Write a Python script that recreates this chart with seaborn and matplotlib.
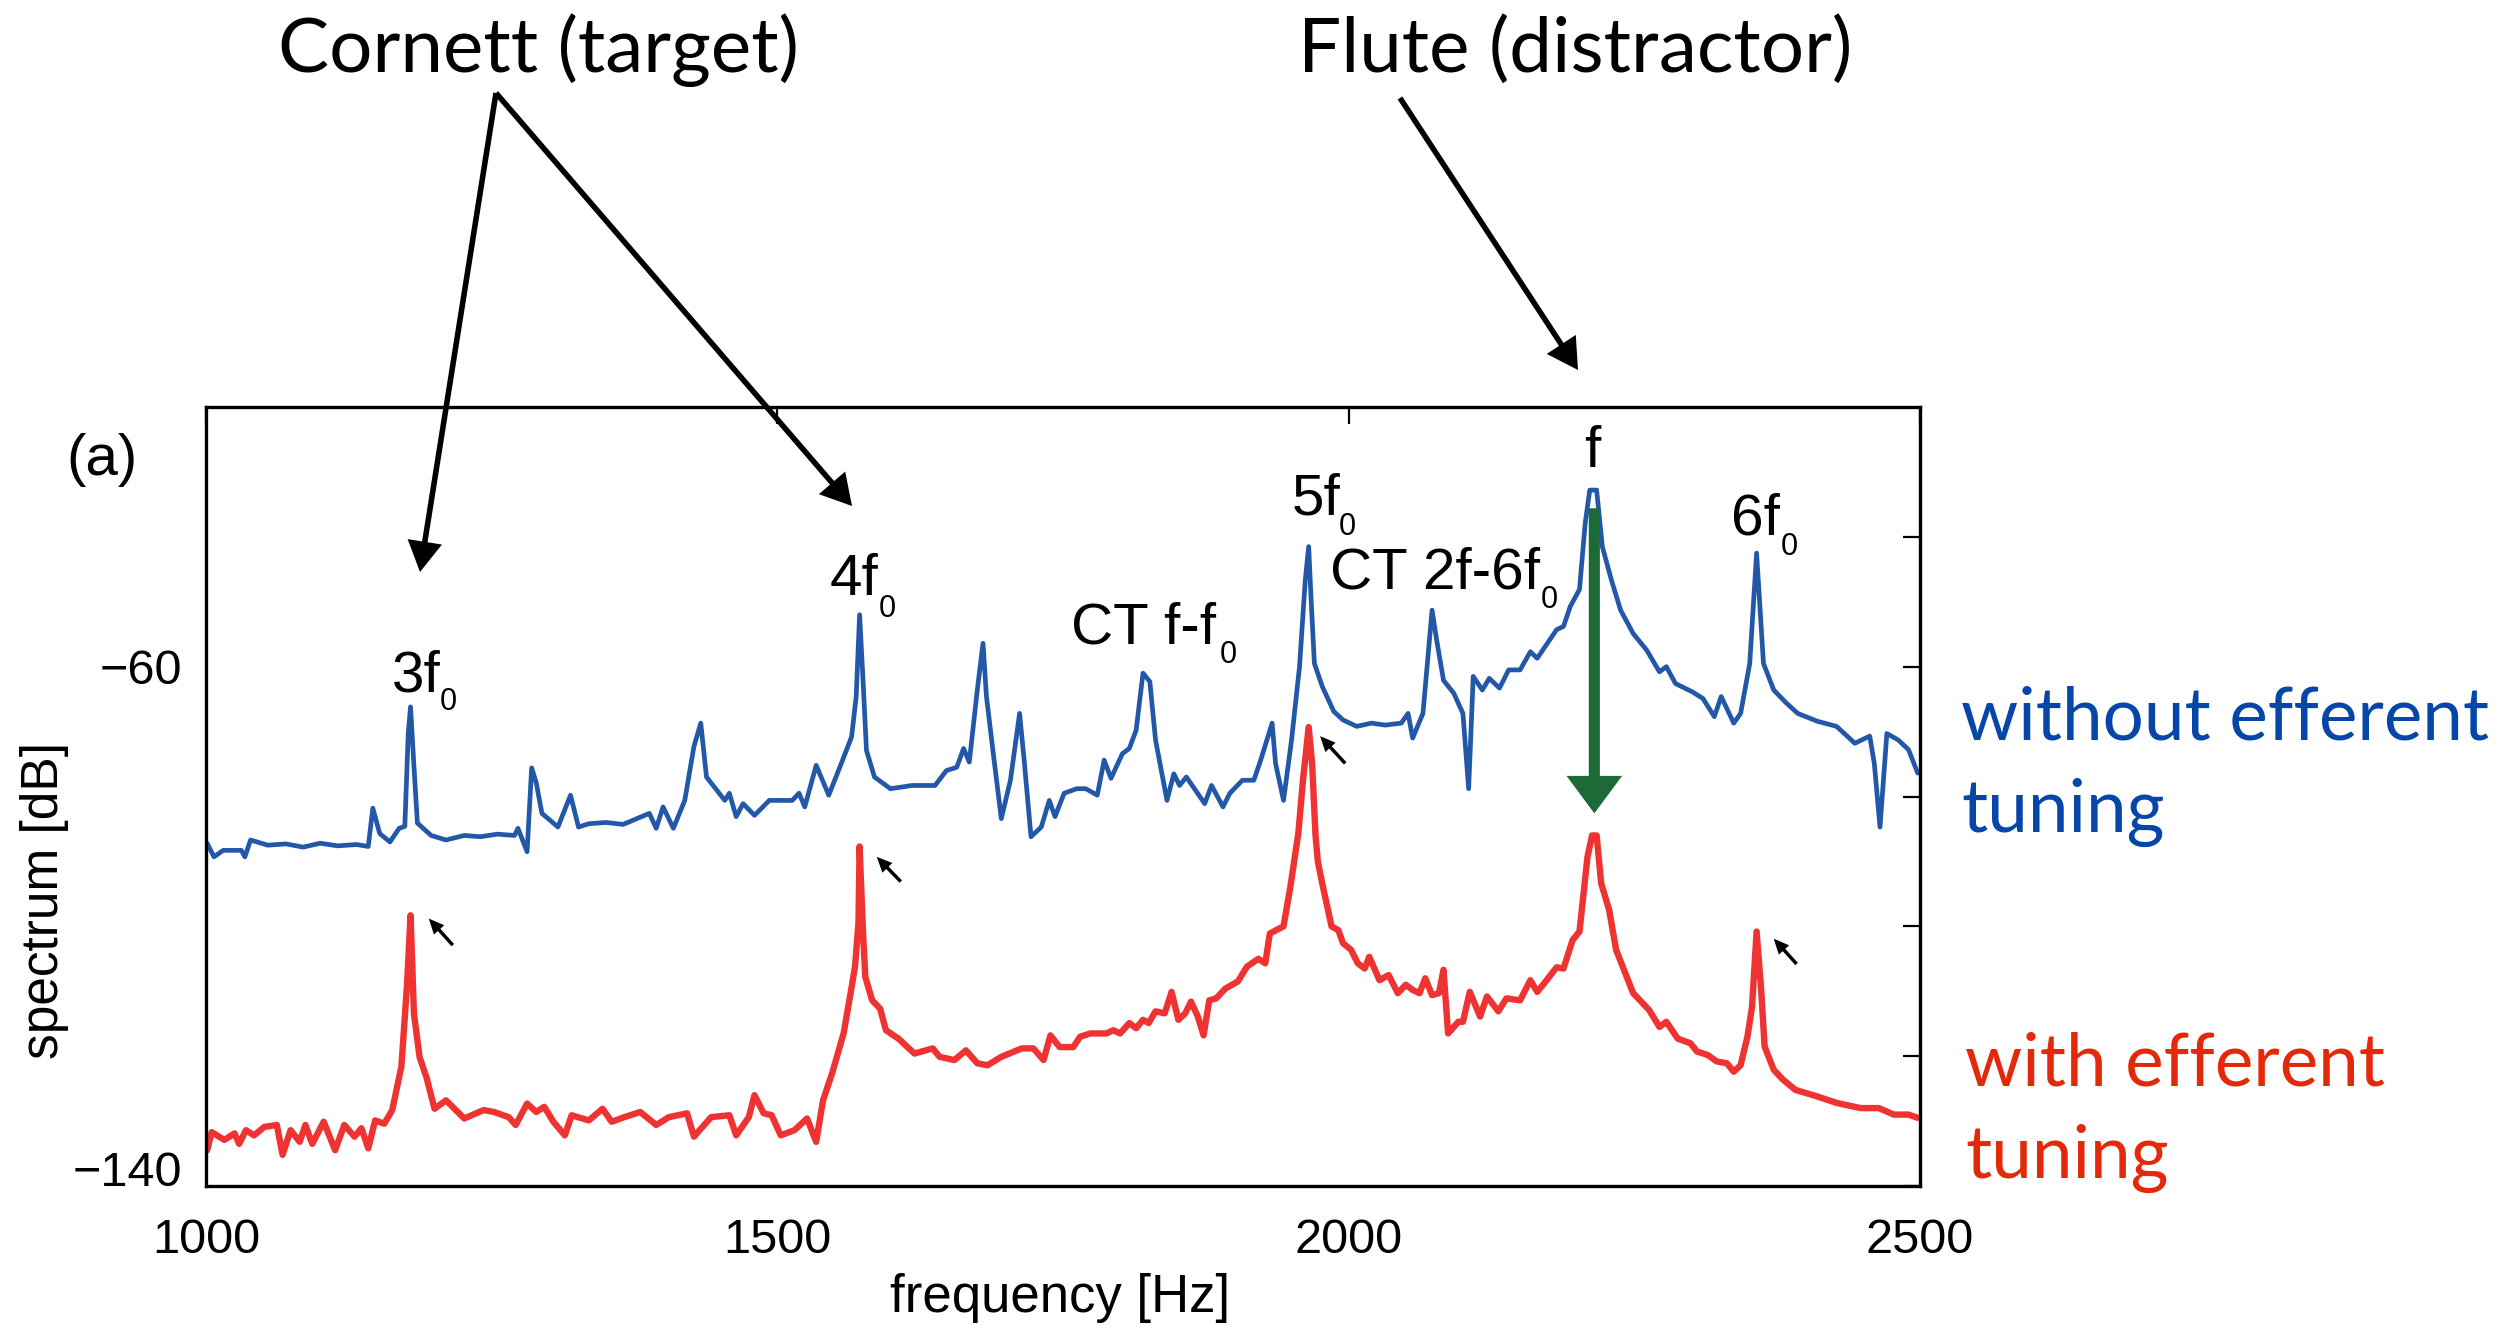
import matplotlib
matplotlib.use("Agg")
import matplotlib.pyplot as plt
import seaborn as sns

# ---------------- data ----------------
freq_without = [1001, 1007, 1015, 1031, 1034, 1039, 1054, 1070, 1085, 1100, 1115, 1132, 1142, 1146,
                1152, 1161, 1169, 1174, 1177, 1179, 1182, 1185, 1197, 1210, 1226, 1240, 1255, 1270,
                1273, 1281, 1285, 1289, 1294, 1308, 1319, 1326, 1335, 1350, 1365, 1388, 1394, 1400,
                1409, 1419, 1427, 1433, 1438, 1454, 1458, 1464, 1470, 1480, 1493, 1513, 1519, 1524,
                1534, 1545, 1556, 1565, 1569, 1572, 1575, 1578, 1585, 1599, 1618, 1638, 1648, 1657,
                1663, 1668, 1675, 1680, 1683, 1689, 1696, 1704, 1712, 1716, 1722, 1731, 1738, 1743,
                1751, 1762, 1770, 1780, 1786, 1792, 1802, 1808, 1814, 1820, 1826, 1831, 1841, 1847,
                1852, 1858, 1874, 1880, 1890, 1896, 1907, 1917, 1923, 1933, 1936, 1943, 1950, 1957,
                1962, 1965, 1967, 1970, 1977, 1987, 1995, 2007, 2020, 2032, 2046, 2052, 2056, 2065,
                2073, 2077, 2083, 2092, 2100, 2105, 2109, 2117, 2123, 2132, 2140, 2150, 2159, 2165,
                2182, 2188, 2194, 2202, 2207, 2211, 2217, 2222, 2230, 2238, 2249, 2261, 2272, 2278,
                2286, 2301, 2310, 2320, 2326, 2337, 2343, 2351, 2357, 2363, 2372, 2383, 2393, 2410,
                2427, 2443, 2456, 2460, 2465, 2471, 2481, 2490, 2498]
db_without = [-87.2, -89.3, -88.3, -88.3, -89.3, -86.7, -87.5, -87.3, -87.8, -87.2, -87.6, -87.4, -87.7, -81.8,
              -85.7, -87.0, -84.9, -84.6, -70.2, -66.2, -75.4, -84.1, -86.0, -86.7, -86.0, -86.2, -85.8, -86.0,
              -84.9, -88.5, -75.6, -77.9, -82.6, -84.7, -79.8, -84.7, -84.2, -84.0, -84.3, -82.6, -84.9, -81.6,
              -84.9, -80.6, -72.3, -68.7, -77.0, -80.6, -79.5, -83.1, -81.1, -82.9, -80.6, -80.6, -79.5, -81.6,
              -75.2, -79.8, -74.9, -70.8, -64.6, -52.0, -62.1, -72.9, -77.0, -78.8, -78.3, -78.3, -76.0, -75.5,
              -72.6, -74.7, -63.6, -56.4, -64.6, -73.4, -83.4, -77.5, -67.2, -74.4, -86.2, -84.7, -80.6, -83.1,
              -79.5, -78.8, -78.8, -79.8, -74.4, -77.2, -73.4, -72.6, -69.8, -61.0, -62.3, -71.3, -80.6, -76.5,
              -78.3, -77.0, -81.1, -78.3, -81.6, -79.5, -77.5, -77.5, -74.4, -68.7, -74.9, -80.6, -71.3, -60.0,
              -46.7, -41.5, -49.2, -59.5, -63.1, -66.9, -68.2, -69.2, -68.7, -69.0, -68.7, -67.2, -71.0, -67.2,
              -51.3, -55.9, -62.1, -64.1, -67.2, -78.8, -61.5, -63.6, -61.8, -63.3, -60.5, -60.5, -57.7, -58.7,
              -54.3, -53.8, -50.7, -48.1, -37.9, -32.8, -32.8, -41.5, -46.7, -51.3, -54.9, -57.5, -60.8, -60.0,
              -62.6, -63.9, -64.9, -67.7, -64.6, -68.7, -67.2, -59.5, -42.5, -59.5, -63.6, -65.6, -67.2, -68.4,
              -69.2, -71.8, -70.7, -74.9, -84.7, -70.3, -71.3, -72.8, -76.4]

freq_with = [1001, 1005, 1016, 1025, 1029, 1035, 1042, 1051, 1062, 1067, 1074, 1082, 1087, 1093, 1103,
             1113, 1121, 1130, 1136, 1142, 1148, 1156, 1163, 1171, 1176, 1179, 1182, 1187, 1193, 1200,
             1210, 1226, 1243, 1252, 1265, 1271, 1281, 1289, 1296, 1304, 1314, 1320, 1335, 1347, 1355,
             1366, 1380, 1394, 1405, 1421, 1427, 1442, 1458, 1464, 1475, 1480, 1488, 1495, 1503, 1515,
             1526, 1534, 1540, 1548, 1558, 1564, 1568, 1571, 1572, 1575, 1577, 1583, 1590, 1595, 1606,
             1620, 1636, 1642, 1655, 1665, 1675, 1684, 1696, 1714, 1724, 1733, 1739, 1747, 1759, 1765,
             1774, 1788, 1794, 1800, 1808, 1814, 1820, 1825, 1831, 1839, 1845, 1851, 1857, 1862, 1868,
             1873, 1878, 1884, 1892, 1903, 1911, 1921, 1927, 1931, 1943, 1949, 1956, 1960, 1965, 1968,
             1971, 1973, 1977, 1985, 1991, 1995, 2002, 2008, 2014, 2018, 2027, 2035, 2043, 2050, 2056,
             2062, 2067, 2073, 2079, 2083, 2087, 2096, 2100, 2106, 2115, 2121, 2131, 2138, 2150, 2159,
             2165, 2171, 2182, 2188, 2196, 2202, 2209, 2213, 2217, 2221, 2228, 2234, 2240, 2249, 2263,
             2272, 2278, 2288, 2299, 2305, 2314, 2322, 2331, 2337, 2343, 2349, 2353, 2357, 2361, 2364,
             2372, 2380, 2391, 2410, 2427, 2448, 2464, 2477, 2490, 2498]
db_with = [-134.5, -131.7, -132.9, -131.9, -133.5, -131.4, -132.2, -130.9, -130.6, -135.2, -131.4, -133.2, -130.6, -133.5, -130.1,
           -134.5, -130.6, -132.4, -131.1, -134.2, -129.9, -130.4, -128.3, -121.6, -108.8, -98.3, -113.5, -120.2, -123.3, -128.1,
           -126.8, -129.6, -128.3, -128.6, -129.4, -130.6, -127.3, -128.6, -127.8, -130.1, -132.2, -129.1, -129.9, -128.1, -130.1,
           -129.4, -128.6, -130.6, -129.4, -128.8, -132.4, -129.4, -129.1, -132.2, -129.4, -126.0, -128.8, -129.1, -132.2, -131.4,
           -129.6, -133.2, -126.8, -122.6, -116.5, -110.4, -106.2, -99.5, -87.7, -101.0, -107.8, -111.4, -112.7, -116.0, -117.3,
           -119.6, -118.8, -120.1, -120.6, -119.1, -121.1, -121.4, -120.1, -118.8, -118.8, -120.6, -116.8, -118.6, -118.6, -117.0,
           -116.5, -116.5, -116.0, -116.5, -114.9, -115.7, -114.4, -114.9, -113.1, -113.4, -110.1, -114.4, -113.4, -111.6, -113.9,
           -116.8, -111.4, -111.1, -109.6, -108.5, -106.2, -105.0, -105.7, -101.1, -100.0, -93.9, -85.6, -77.5, -69.3, -74.9,
           -86.0, -90.0, -93.5, -100.0, -100.6, -102.6, -103.6, -105.7, -106.5, -104.7, -108.3, -107.5, -110.3, -109.0, -109.8,
           -110.3, -108.0, -110.6, -110.3, -106.7, -116.5, -114.7, -114.7, -110.1, -113.9, -110.8, -113.1, -111.1, -111.4, -108.3,
           -110.1, -108.8, -106.3, -106.5, -102.1, -100.8, -89.3, -86.0, -86.0, -93.4, -97.5, -103.6, -106.3, -110.3, -112.9,
           -115.5, -114.7, -117.3, -118.0, -119.3, -119.8, -120.8, -121.1, -122.4, -121.4, -117.0, -112.4, -100.8, -109.8, -118.5,
           -122.1, -123.6, -125.2, -126.2, -127.2, -128.0, -128.0, -129.0, -129.0, -129.5]

x_ticks = [1000, 1500, 2000, 2500]
x_tick_labels = ["1000", "1500", "2000", "2500"]
y_ticks = [-140, -120, -100, -80, -60, -40]
y_tick_labels = ["\u2212140", "", "", "", "\u221260", ""]

# peak annotations: main text, subscript, main position, subscript position
peak_main = ["3f", "4f", "CT f-f", "5f", "CT 2f-6f", "6f"]
peak_main_x = [1163, 1546, 1757, 1950, 1984, 2335]
peak_main_y = [-63.9, -49.0, -56.4, -36.6, -47.9, -39.7]
peak_sub_x = [1205, 1589, 1887, 1991, 2168, 2378]
peak_sub_y = [-66.7, -52.4, -59.4, -39.7, -51.0, -42.8]

# small cursor arrows (tail -> tip) next to the red target harmonics
cursor_tail_x = [1216, 1608, 1997, 2392]
cursor_tail_y = [-102.9, -93.1, -74.9, -105.8]
cursor_tip_x = [1195, 1587, 1975, 2372]
cursor_tip_y = [-98.8, -89.3, -70.7, -101.9]

# ---------------- style ----------------
BLUE_LINE = "#2358a8"
RED_LINE = "#ee3332"
GREEN = "#1d6a36"
BLUE_TEXT = "#0546a8"
RED_TEXT = "#e4280a"

sns.set_theme(style="white")
plt.rcParams["font.family"] = ["Liberation Sans", "DejaVu Sans"]

W, H = 2518, 1330
fig = plt.figure(figsize=(W / 100, H / 100), dpi=100)
ax = fig.add_axes([206 / W, 1 - 1186 / H, 1714 / W, 779 / H])

sns.lineplot(x=freq_without, y=db_without, ax=ax, color=BLUE_LINE, lw=3.4,
             estimator=None, sort=False)
sns.lineplot(x=freq_with, y=db_with, ax=ax, color=RED_LINE, lw=4.6,
             estimator=None, sort=False)
for ln in ax.lines:
    ln.set_solid_joinstyle("round")

ax.set_xlim(1000, 2500)
ax.set_ylim(-140, -20)
ax.set_xticks(x_ticks)
ax.set_xticklabels(x_tick_labels)
ax.set_yticks(y_ticks)
ax.set_yticklabels(y_tick_labels)
ax.tick_params(axis="both", which="major", direction="in", length=12, width=1.6,
               top=True, right=True, labelsize=35, colors="black")
ax.tick_params(axis="x", pad=23)
ax.tick_params(axis="y", pad=17)
ax.get_yticklabels()[0].set_verticalalignment("baseline")
for sp in ax.spines.values():
    sp.set_color("black")
    sp.set_linewidth(2.4)
ax.grid(False)

ax.set_xlabel("frequency [Hz]", fontsize=38, color="black")
ax.set_ylabel("spectrum [dB]", fontsize=37, color="black")
ax.xaxis.set_label_coords(0.498, -0.112)
ax.yaxis.set_label_coords(-0.080, 0.367)

# peak labels
for m, mx, my, sx, sy in zip(peak_main, peak_main_x, peak_main_y, peak_sub_x, peak_sub_y):
    ax.text(mx, my, m, fontsize=42, ha="left", va="baseline", color="black")
    ax.text(sx, sy, "0", fontsize=22, ha="left", va="baseline", color="black")
ax.text(2213, -29.2, "f", fontsize=42, ha="center", va="baseline", color="black")

# cursor arrows
for tx, ty, px, py in zip(cursor_tail_x, cursor_tail_y, cursor_tip_x, cursor_tip_y):
    ax.annotate("", xy=(px, py), xytext=(tx, ty),
                arrowprops=dict(arrowstyle="simple,head_length=1.1,head_width=1.0,tail_width=0.25",
                                mutation_scale=10, color="black", lw=0,
                                shrinkA=0, shrinkB=0))

# green suppression arrow
ax.annotate("", xy=(2215, -82.6), xytext=(2215, -35.6),
            arrowprops=dict(arrowstyle="simple,head_length=2.7,head_width=4.0,tail_width=0.8",
                            mutation_scale=10, color=GREEN, lw=0,
                            shrinkA=0, shrinkB=0))

fig.text(66 / W, 1 - 475 / H, "(a)", fontsize=42, ha="left", va="baseline", color="black")

# annotations outside the axes
TOP_FONT = ["Lato", "DejaVu Sans"]
fig.text(278 / W, 1 - 72 / H, "Cornett (target)", fontsize=55, family=TOP_FONT,
         ha="left", va="baseline", color="black")
fig.text(1298 / W, 1 - 72 / H, "Flute (distractor)", fontsize=55, family=TOP_FONT,
         ha="left", va="baseline", color="black")

arrow_kw = dict(arrowstyle="simple,head_length=2.2,head_width=2.5,tail_width=0.4",
                mutation_scale=10, color="black", lw=0, shrinkA=0, shrinkB=0)
fp = lambda x, y: (x / W, 1 - y / H)
fig.add_artist(matplotlib.patches.FancyArrowPatch(fp(496, 93), fp(420, 572),
                                                  transform=fig.transFigure, **arrow_kw))
fig.add_artist(matplotlib.patches.FancyArrowPatch(fp(496, 93), fp(852, 506),
                                                  transform=fig.transFigure, **arrow_kw))
fig.add_artist(matplotlib.patches.FancyArrowPatch(fp(1400, 98), fp(1578, 370),
                                                  transform=fig.transFigure, **arrow_kw))

fig.text(1961 / W, 1 - 739 / H, "without efferent", fontsize=52.5, family=TOP_FONT,
         ha="left", va="baseline", color=BLUE_TEXT)
fig.text(1961 / W, 1 - 832 / H, "tuning", fontsize=52.5, family=TOP_FONT,
         ha="left", va="baseline", color=BLUE_TEXT)
fig.text(1965 / W, 1 - 1085 / H, "with efferent", fontsize=52.5, family=TOP_FONT,
         ha="left", va="baseline", color=RED_TEXT)
fig.text(1965 / W, 1 - 1178 / H, "tuning", fontsize=52.5, family=TOP_FONT,
         ha="left", va="baseline", color=RED_TEXT)

fig.savefig("out.png", dpi=100, facecolor="white")
